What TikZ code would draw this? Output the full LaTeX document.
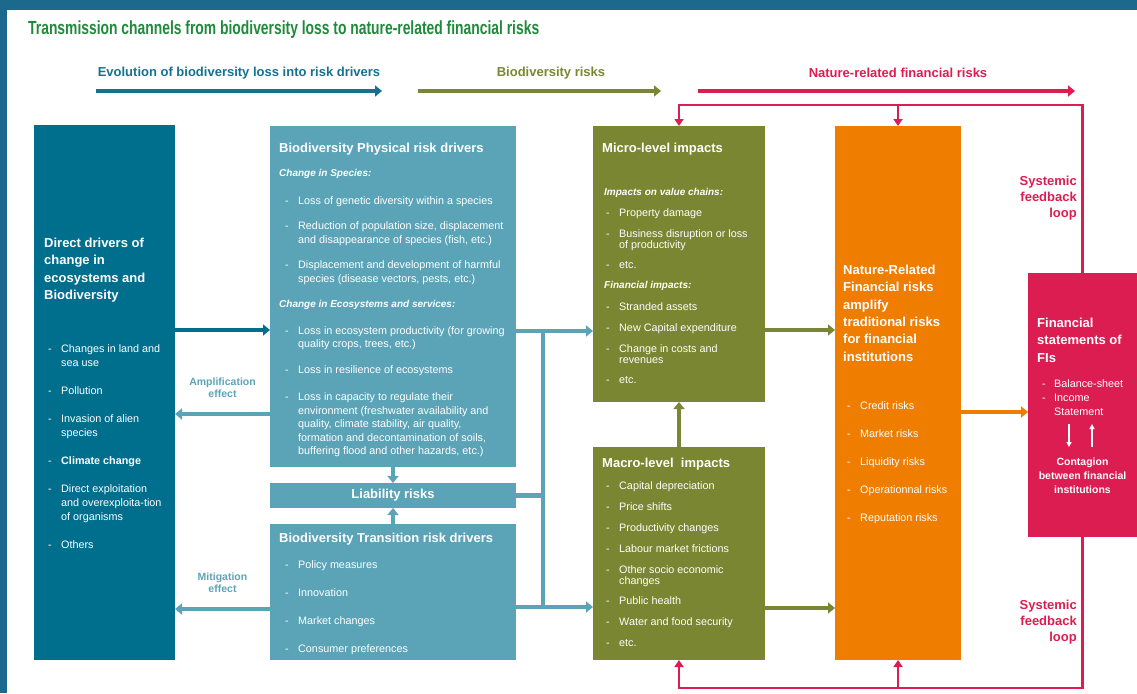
\documentclass[tikz,border=0pt]{standalone}
\usepackage{fontspec}
\setmainfont{Liberation Sans}
\newfontfamily\condfont[FakeStretch=0.73]{Liberation Sans}
\usetikzlibrary{positioning}
\usetikzlibrary{arrows.meta}

\definecolor{framebl}{HTML}{1B6A8E}
\definecolor{titlegr}{HTML}{1F8A3C}
\definecolor{evblue}{HTML}{16708F}
\definecolor{drvteal}{HTML}{006F8E}
\definecolor{ltteal}{HTML}{5BA4B8}
\definecolor{bdolive}{HTML}{7A8631}
\definecolor{nrorange}{HTML}{EF7D00}
\definecolor{nrpink}{HTML}{DB1D52}

\newcommand\itm{\makebox[13pt][l]{-}}
\newcommand\cnt{\hspace*{13pt}}

\begin{document}
\begin{tikzpicture}[x=1pt, y=-1pt,
    box/.style={inner sep=0, outer sep=0, anchor=north west},
    hd/.style={text=white, align=left, inner sep=0, font=\fontsize{13}{17.3}\selectfont\bfseries},
    sub/.style={text=white, inner sep=0, font=\fontsize{10}{12}\selectfont\bfseries\itshape},
    lst/.style={text=white, align=left, inner sep=0, font=\fontsize{10.8}{#1}\selectfont},
    lst/.default=13.5,
    toplab/.style={inner sep=0, font=\fontsize{13}{15}\selectfont\bfseries},
    effect/.style={text=ltteal, align=center, inner sep=0, font=\fontsize{10.5}{12}\selectfont\bfseries},
    sysl/.style={text=nrpink, align=right, inner sep=0, font=\fontsize{13}{16}\selectfont\bfseries},
    flow/.style={line width=4.5pt, -{Triangle[length=7pt,width=11pt]}},
    bus/.style={line width=4.5pt},
    fback/.style={draw=nrpink, line width=2.5pt, -{Triangle[length=7pt,width=9pt]}},
    cflow/.style={draw=white, line width=1.3pt, -{Triangle[length=5pt,width=5pt]}}
]
\useasboundingbox (0,0) rectangle (1137,693);

% frame
\fill[framebl] (0,0) rectangle (1137,10);
\fill[framebl] (0,0) rectangle (7,693);

% title
\node[anchor=west, text=titlegr, inner sep=0, font={\condfont\bfseries\fontsize{19}{21}\selectfont}] (title) at (28,30) {Transmission channels from biodiversity loss to nature-related financial risks};

% top arrows
\coordinate (evs) at (96,91);
\coordinate (eve) at (382,91);
\coordinate (brs) at (418,91);
\coordinate (bre) at (661,91);
\coordinate (nrs) at (698,91);
\coordinate (nre) at (1075,91);
\draw[flow, evblue] (evs) -- (eve);
\draw[flow, bdolive] (brs) -- (bre);
\draw[flow, nrpink] (nrs) -- (nre);
\node[toplab, text=evblue] (evlab) at (239,73) {Evolution of biodiversity loss into risk drivers};
\node[toplab, text=bdolive] (brlab) at (551,73) {Biodiversity risks};
\node[toplab, text=nrpink] (nrlab) at (898,73) {Nature-related financial risks};

% boxes
\node[box, fill=drvteal, minimum width=141pt, minimum height=535pt] (drv) at (34,125) {};
\node[box, fill=ltteal, minimum width=246pt, minimum height=341pt] (phys) at (270,126) {};
\node[box, fill=ltteal, minimum width=246pt, minimum height=25pt] (liab) at (270,483) {};
\node[box, fill=ltteal, minimum width=246pt, minimum height=136pt] (trans) at (270,524) {};
\node[box, fill=bdolive, minimum width=172pt, minimum height=276pt] (micro) at (593,126) {};
\node[box, fill=bdolive, minimum width=172pt, minimum height=213pt] (macro) at (593,447) {};
\node[box, fill=nrorange, minimum width=126pt, minimum height=534pt] (nrfr) at (835,126) {};
\node[box, fill=nrpink, minimum width=109pt, minimum height=264pt] (fs) at (1028,273) {};

% Direct drivers
\node[hd, below right=113pt and 10pt of drv.north west] (drvhd) {Direct drivers of\\change in\\ecosystems and\\Biodiversity};
\node[lst=14, below right=219pt and 14pt of drv.north west] (drvlst) {\itm Changes in land and\\\cnt sea use\\[14pt]\itm Pollution\\[14pt]\itm Invasion of alien\\\cnt species\\[14pt]\itm\textbf{Climate change}\\[14pt]\itm Direct exploitation\\\cnt and overexploita-tion\\\cnt of organisms\\[14pt]\itm Others};

% Physical risk drivers
\node[hd, below right=17pt and 9pt of phys.north west] (physhd) {Biodiversity Physical risk drivers};
\node[sub, below right=43pt and 9pt of phys.north west] (physsub1) {Change in Species:};
\node[lst, below right=70pt and 15pt of phys.north west] (physlst1) {\itm Loss of genetic diversity within a species\\[12pt]\itm Reduction of population size, displacement\\\cnt and disappearance of species (fish, etc.)\\[12pt]\itm Displacement and development of harmful\\\cnt species (disease vectors, pests, etc.)};
\node[sub, below right=174pt and 9pt of phys.north west] (physsub2) {Change in Ecosystems and services:};
\node[lst, below right=200pt and 15pt of phys.north west] (physlst2) {\itm Loss in ecosystem productivity (for growing\\\cnt quality crops, trees, etc.)\\[12pt]\itm Loss in resilience of ecosystems\\[14pt]\itm Loss in capacity to regulate their\\\cnt environment (freshwater availability and\\\cnt quality, climate stability, air quality,\\\cnt formation and decontamination of soils,\\\cnt buffering flood and other hazards, etc.)};

% Liability
\node[text=white, inner sep=0, font=\fontsize{13}{15}\selectfont\bfseries] (liablab) at (liab.center) {Liability risks};

% Transition risk drivers
\node[hd, below right=9pt and 9pt of trans.north west] (transhd) {Biodiversity Transition risk drivers};
\node[lst=13, below right=36pt and 15pt of trans.north west] (translst) {\itm Policy measures\\[15pt]\itm Innovation\\[15pt]\itm Market changes\\[15pt]\itm Consumer preferences};

% Micro
\node[hd, below right=17pt and 9pt of micro.north west] (microhd) {Micro-level impacts};
\node[sub, below right=62pt and 11pt of micro.north west] (microsub1) {Impacts on value chains:};
\node[lst=11, below right=82pt and 13pt of micro.north west] (microlst1) {\itm Property damage\\[10pt]\itm Business disruption or loss\\\cnt of productivity\\[9pt]\itm etc.};
\node[sub, below right=155pt and 11pt of micro.north west] (microsub2) {Financial impacts:};
\node[lst=11, below right=176pt and 13pt of micro.north west] (microlst2) {\itm Stranded assets\\[10pt]\itm New Capital expenditure\\[10pt]\itm Change in costs and\\\cnt revenues\\[9pt]\itm etc.};

% Macro
\node[hd, below right=11pt and 9pt of macro.north west] (macrohd) {Macro-level~ impacts};
\node[lst=11, below right=34pt and 13pt of macro.north west] (macrolst) {\itm Capital depreciation\\[10pt]\itm Price shifts\\[10pt]\itm Productivity changes\\[10pt]\itm Labour market frictions\\[10pt]\itm Other socio economic\\\cnt changes\\[9pt]\itm Public health\\[10pt]\itm Water and food security\\[10pt]\itm etc.};

% Nature-related financial risks
\node[hd, below right=139pt and 8pt of nrfr.north west] (nrfrhd) {Nature-Related\\Financial risks\\amplify\\traditional risks\\for financial\\institutions};
\node[lst=13, below right=275pt and 12pt of nrfr.north west] (nrfrlst) {\itm Credit risks\\[15pt]\itm Market risks\\[15pt]\itm Liquidity risks\\[15pt]\itm Operationnal risks\\[15pt]\itm Reputation risks};

% Financial statements
\node[hd, below right=45pt and 9pt of fs.north west] (fshd) {Financial\\statements of\\FIs};
\node[lst=14, below right=106pt and 14pt of fs.north west] (fslst) {\makebox[12pt][l]{-}Balance-sheet\\\makebox[12pt][l]{-}Income\\\hspace*{12pt}Statement};
\coordinate (cd1) at (1069,424);
\coordinate (cd2) at (1069,447);
\coordinate (cu1) at (1092,447);
\coordinate (cu2) at (1092,424);
\draw[cflow] (cd1) -- (cd2);
\draw[cflow] (cu1) -- (cu2);
\node[text=white, align=center, inner sep=0, font=\fontsize{10.5}{14}\selectfont\bfseries, below=185pt of fs.north] (contag) {Contagion\\between financial\\institutions};

% connectors
\draw[flow, drvteal] ([yshift=62.5pt]drv.east) -- ([yshift=62.5pt]drv.east -| phys.west);
\draw[flow, ltteal] ([yshift=-21.5pt]drv.east -| phys.west) -- ([yshift=-21.5pt]drv.east)
    node[midway, above=14pt, effect] (ampl) {Amplification\\effect};
\draw[flow, ltteal] ([yshift=-216.5pt]drv.east -| trans.west) -- ([yshift=-216.5pt]drv.east)
    node[midway, above=14pt, effect] (mitig) {Mitigation\\effect};
\draw[flow, ltteal] (phys.south) -- (liab.north);
\draw[flow, ltteal] (trans.north) -- (liab.south);
\coordinate (busa) at ([xshift=27pt,yshift=-34.5pt]phys.east);
\coordinate (busb) at ([xshift=27pt,yshift=-15pt]trans.east);
\draw[bus, ltteal] (busa) -- (busb);
\draw[bus, ltteal] (liab.east) -- (liab.east -| busa);
\draw[flow, ltteal] ([yshift=-34.5pt]phys.east) -- ([yshift=-34.5pt]phys.east -| micro.west);
\draw[flow, ltteal] ([yshift=-15pt]trans.east) -- ([yshift=-15pt]trans.east -| macro.west);
\draw[flow, bdolive] (macro.north) -- (micro.south);
\draw[flow, bdolive] ([yshift=-66pt]micro.east) -- ([yshift=-66pt]micro.east -| nrfr.west);
\draw[flow, bdolive] ([yshift=-54.5pt]macro.east) -- ([yshift=-54.5pt]macro.east -| nrfr.west);
\draw[flow, nrorange] ([yshift=-19pt]nrfr.east) -- ([yshift=-19pt]nrfr.east -| fs.west);

% feedback loops
\coordinate (looptop) at (0,105);
\coordinate (loopbot) at (0,688);
\draw[fback] (fs.north) |- (micro.north |- looptop) -- (micro.north);
\draw[fback] (nrfr.north |- looptop) -- (nrfr.north);
\draw[fback] (fs.south) |- (macro.south |- loopbot) -- (macro.south);
\draw[fback] (nrfr.south |- loopbot) -- (nrfr.south);
\node[sysl, above left=53pt and 5.5pt of fs.north] (systop) {Systemic\\feedback\\loop};
\node[sysl, below left=63pt and 5.5pt of fs.south] (sysbot) {Systemic\\feedback\\loop};

\end{tikzpicture}
\end{document}
